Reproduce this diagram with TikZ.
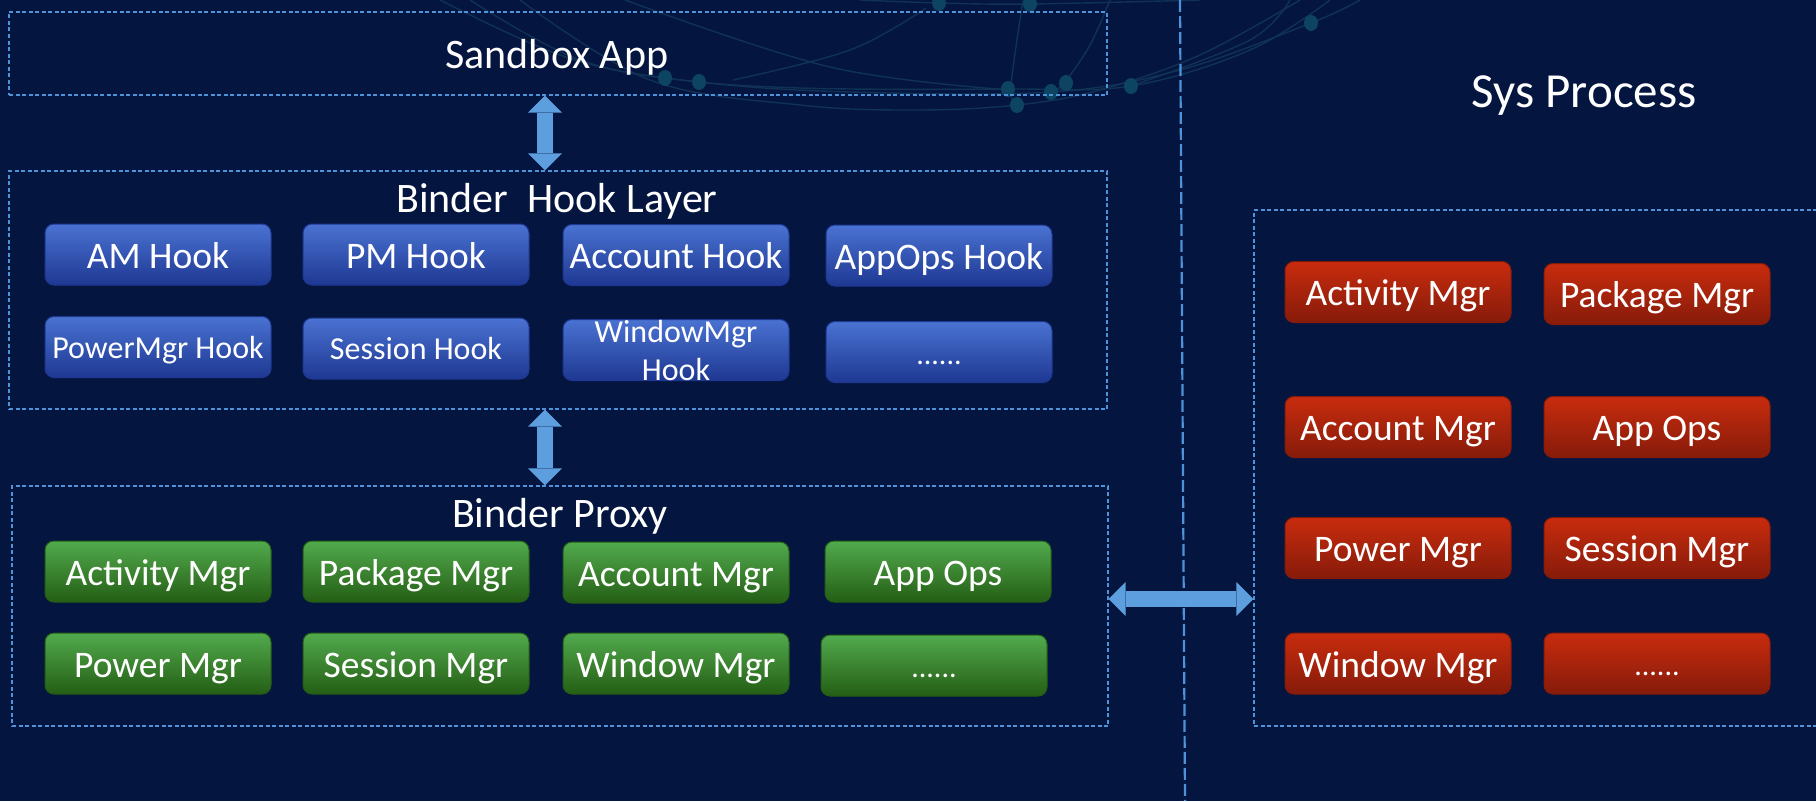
\documentclass[tikz,border=0pt]{standalone}
\usepackage{fontspec}
\setmainfont{Carlito}
\usetikzlibrary{arrows.meta,calc}

\definecolor{bgnavy}{RGB}{4,21,64}
\definecolor{frameblue}{RGB}{78,146,218}
\definecolor{linkblue}{RGB}{92,158,222}
\definecolor{hooktop}{RGB}{74,114,210}
\definecolor{hookbot}{RGB}{30,56,146}
\definecolor{proxytop}{RGB}{82,170,78}
\definecolor{proxybot}{RGB}{36,94,20}
\definecolor{systop}{RGB}{200,44,14}
\definecolor{sysbot}{RGB}{134,27,10}
\definecolor{netwirecol}{RGB}{16,50,86}
\definecolor{netknotcol}{RGB}{12,68,98}

\begin{document}
\begin{tikzpicture}[x=1pt,y=-1pt,
  layer/.style={draw=frameblue, line width=1.2pt, dash pattern=on 4pt off 2.5pt, inner sep=0pt},
  title/.style={text=white, inner sep=0pt, font=\fontsize{42}{50}\selectfont},
  cardbase/.style={rounded corners=9pt, minimum width=226pt, minimum height=61pt, inner sep=0pt,
               text=white, font=\fontsize{37.5}{44}\selectfont, line width=1pt},
  card/.style={cardbase, text height=30pt, text depth=3pt},
  hookfill/.style={top color=hooktop, bottom color=hookbot, draw=hookbot},
  hookcard/.style={card, hookfill},
  proxycard/.style={card, top color=proxytop, bottom color=proxybot, draw=proxybot},
  syscard/.style={card, top color=systop, bottom color=sysbot, draw=sysbot},
  smalltxt/.style={font=\fontsize{32}{38}\selectfont, text height=24pt, text depth=2pt},
  ellip/.style={font=\fontsize{30}{36}\selectfont, text height=28pt, text depth=4pt},
  link/.style={draw=linkblue, line width=16pt,
               {Triangle[width=34pt,length=17pt,line width=0pt]}-{Triangle[width=34pt,length=17pt,line width=0pt]}},
  divider/.style={draw=frameblue, line width=2.2pt, dash pattern=on 12pt off 4pt},
  netwire/.style={draw=netwirecol, line width=1.4pt},
  netknot/.style={fill=netknotcol}
]
\useasboundingbox (0,0) rectangle (1816,801);
\fill[bgnavy] (0,0) rectangle (1816,801);

% faint network ornament behind the top layer
\draw[netwire] plot[smooth, tension=0.6] coordinates {(440,0) (560,55) (665,78) (800,88) (1008,89) (1131,86) (1250,50) (1330,0)};
\draw[netwire] plot[smooth, tension=0.6] coordinates {(470,0) (580,60) (699,82) (850,92) (1051,92) (1180,70) (1311,23) (1360,0)};
\draw[netwire] plot[smooth, tension=0.6] coordinates {(520,0) (650,80) (800,105) (916,110) (1017,105) (1100,90) (1200,55) (1300,0)};
\draw[netwire] plot[smooth, tension=0.6] coordinates {(625,0) (830,67) (1010,90)};
\draw[netwire] plot[smooth, tension=0.6] coordinates {(1023,0) (1011,87) (1017,105)};
\draw[netwire] plot[smooth, tension=0.6] coordinates {(1110,0) (1090,45) (1064,83) (1051,92)};
\draw[netwire] plot[smooth, tension=0.6] coordinates {(926,8) (850,50) (733,80)};
\draw[netwire] plot[smooth, tension=0.6] coordinates {(860,0) (940,3) (1030,4) (1200,0)};
\draw[netwire] plot[smooth, tension=0.6] coordinates {(1131,86) (1250,40) (1290,0)};
\foreach \p in {(939,3),(1030,4),(1311,23),(665,78),(699,82),(1008,89),(1017,105),(1051,92),(1066,83),(1131,86)}
  \fill[netknot] \p ellipse [x radius=7pt, y radius=8pt];

% process boundary
\coordinate (divtop) at (1180,0);
\coordinate (divbot) at (1185,801);
\draw[divider] (divtop) -- (divbot);

% layers
\node[layer, minimum width=1098pt, minimum height=83pt] (sandbox) at (558,53.5) {};
\node[title] (sandboxtitle) at (557,57) {Sandbox App};

\node[layer, minimum width=1098pt, minimum height=238pt] (hook) at (558,290) {};
\node[title] (hooktitle) at (557,201.5) {Binder\ \ Hook Layer};

\node[layer, minimum width=1096pt, minimum height=240pt] (proxy) at (560,606) {};
\node[title] (proxytitle) at (560,516.5) {Binder Proxy};

\node[layer, minimum width=576pt, minimum height=516pt] (sys) at (1542,468) {};
\node[title, font=\fontsize{49}{58}\selectfont] (systitle) at (1584,96) {Sys Process};

% hook cards
\node[hookcard] (h1) at (158,254.5) {AM Hook};
\node[hookcard] (h2) at (416,254.5) {PM Hook};
\node[hookcard] (h3) at (676,255) {Account Hook};
\node[hookcard] (h4) at (939,255.5) {AppOps Hook};
\node[hookcard, smalltxt] (h5) at (158,347) {PowerMgr Hook};
\node[hookcard, smalltxt] (h6) at (416,348.5) {Session Hook};
\node[cardbase, hookfill, font=\fontsize{32}{38}\selectfont, align=center] (h7) at (676,350) {WindowMgr\\Hook};
\node[hookcard, ellip] (h8) at (939,352) {......};

% proxy cards
\node[proxycard] (p1) at (158,571.5) {Activity Mgr};
\node[proxycard] (p2) at (416,571.5) {Package Mgr};
\node[proxycard] (p3) at (676,572.5) {Account Mgr};
\node[proxycard] (p4) at (938,571.5) {App Ops};
\node[proxycard] (p5) at (158,663.5) {Power Mgr};
\node[proxycard] (p6) at (416,663.5) {Session Mgr};
\node[proxycard] (p7) at (676,663.5) {Window Mgr};
\node[proxycard, ellip] (p8) at (934,665.5) {......};

% system service cards
\node[syscard] (s1) at (1398,292) {Activity Mgr};
\node[syscard] (s2) at (1657,294) {Package Mgr};
\node[syscard] (s3) at (1398,427) {Account Mgr};
\node[syscard] (s4) at (1657,427) {App Ops};
\node[syscard] (s5) at (1398,548) {Power Mgr};
\node[syscard] (s6) at (1657,548) {Session Mgr};
\node[syscard] (s7) at (1398,663.5) {Window Mgr};
\node[syscard, ellip] (s8) at (1657,663.5) {......};

% links between layers
\coordinate (linkaxis) at (545,0);
\coordinate (bridge) at (0,599);
\draw[link] (sandbox.south -| linkaxis) -- (hook.north -| linkaxis);
\draw[link] (hook.south -| linkaxis) -- (proxy.north -| linkaxis);
\draw[link] (proxy.east |- bridge) -- (sys.west |- bridge);
\end{tikzpicture}
\end{document}
